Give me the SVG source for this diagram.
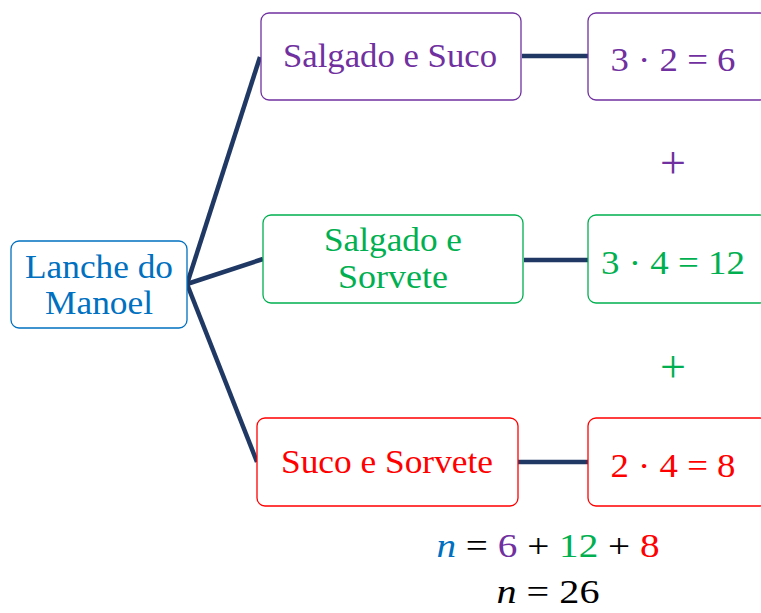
<svg xmlns="http://www.w3.org/2000/svg" width="761" height="613" viewBox="0 0 761 613">
<style>
.box{fill:#fff;stroke-width:1.3}
.t{font-family:"Liberation Serif","Times New Roman",serif;font-size:33px;text-anchor:middle}
.m{font-family:"Liberation Serif","Times New Roman",serif;font-size:34px;text-anchor:middle}
.p{font-family:"Liberation Serif","Times New Roman",serif;font-size:46px;text-anchor:middle}
.c{stroke:#1f3864;stroke-width:4.5;fill:none}
.blue{fill:#0070c0}.purple{fill:#7030a0}.green{fill:#00b050}.red{fill:#ff0000}
</style>
<rect width="761" height="613" fill="#fff"/>
<g id="connectors">
<line class="c" x1="187" y1="284" x2="260" y2="57"/>
<line class="c" x1="187" y1="284" x2="263" y2="259"/>
<line class="c" x1="187" y1="284" x2="257" y2="462"/>
<line class="c" x1="522" y1="56" x2="588" y2="56"/>
<line class="c" x1="524" y1="260" x2="588" y2="260"/>
<line class="c" x1="518" y1="462" x2="588" y2="462"/>
</g>
<g id="root">
<rect class="box" x="11" y="241" width="176" height="87" rx="8" stroke="#0070c0"/>
<text class="t blue" x="99" y="278" textLength="148" lengthAdjust="spacingAndGlyphs">Lanche do</text>
<text class="t blue" x="99" y="314" textLength="108" lengthAdjust="spacingAndGlyphs">Manoel</text>
</g>
<g id="n1">
<rect class="box" x="261" y="13" width="260" height="87" rx="8" stroke="#7030a0"/>
<text class="t purple" x="390" y="67" textLength="214" lengthAdjust="spacingAndGlyphs">Salgado e Suco</text>
</g>
<g id="r1">
<rect class="box" x="588" y="13" width="180" height="87" rx="8" stroke="#7030a0"/>
<text class="m purple" x="673" y="71" textLength="125" lengthAdjust="spacingAndGlyphs">3 · 2 = 6</text>
</g>
<g id="n2">
<rect class="box" x="263" y="215" width="260" height="88" rx="8" stroke="#00b050"/>
<text class="t green" x="393" y="251" textLength="138" lengthAdjust="spacingAndGlyphs">Salgado e</text>
<text class="t green" x="393" y="288" textLength="110" lengthAdjust="spacingAndGlyphs">Sorvete</text>
</g>
<g id="r2">
<rect class="box" x="588" y="215" width="180" height="88" rx="8" stroke="#00b050"/>
<text class="m green" x="673" y="274" textLength="144" lengthAdjust="spacingAndGlyphs">3 · 4 = 12</text>
</g>
<g id="n3">
<rect class="box" x="257" y="418" width="261" height="88" rx="8" stroke="#ff0000"/>
<text class="t red" x="387" y="473" textLength="212" lengthAdjust="spacingAndGlyphs">Suco e Sorvete</text>
</g>
<g id="r3">
<rect class="box" x="588" y="418" width="180" height="88" rx="8" stroke="#ff0000"/>
<text class="m red" x="673" y="477" textLength="125" lengthAdjust="spacingAndGlyphs">2 · 4 = 8</text>
</g>
<text class="p purple" x="673" y="178">+</text>
<text class="p green" x="673" y="382">+</text>
<text class="m" x="548" y="557" textLength="223" lengthAdjust="spacingAndGlyphs"><tspan class="blue" font-style="italic">n</tspan> = <tspan class="purple">6</tspan> + <tspan class="green">12</tspan> + <tspan class="red">8</tspan></text>
<text class="m" x="548" y="603" textLength="103" lengthAdjust="spacingAndGlyphs"><tspan font-style="italic">n</tspan> = 26</text>
</svg>
